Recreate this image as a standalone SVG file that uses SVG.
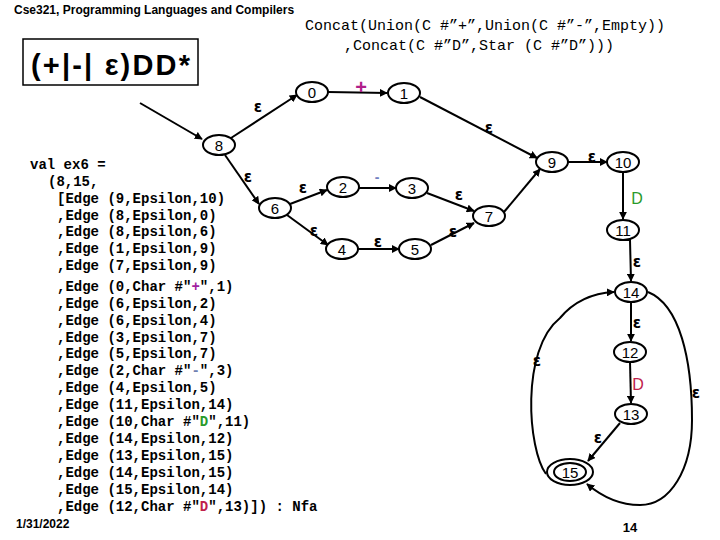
<svg xmlns="http://www.w3.org/2000/svg" width="720" height="540" viewBox="0 0 720 540">
<style>
.n ellipse{fill:#fff;stroke:#000;stroke-width:2}
.n text{font-family:"Liberation Sans",Arial,sans-serif;font-size:15px;text-anchor:middle;dominant-baseline:central}
.e path{fill:none;stroke:#000;stroke-width:2}
.l{font-family:"DejaVu Sans",sans-serif;font-size:15px;font-weight:bold;text-anchor:middle}
.c{font-family:"Liberation Mono","Courier New",monospace;font-size:14px;font-weight:bold;fill:#000}
</style>
<defs><marker id="a" viewBox="0 0 10 10" refX="9" refY="5" markerWidth="4" markerHeight="4" orient="auto"><path d="M0,0L10,5L0,10z" fill="#000"/></marker></defs>
<rect width="720" height="540" fill="#fff"/>
<text x="14" y="14" font-family="Liberation Sans,Arial,sans-serif" font-size="12" font-weight="bold">Cse321, Programming Languages and Compilers</text>
<text x="305" y="30" font-family="Liberation Mono,monospace" font-size="15">Concat(Union(C #”+”,Union(C #”-”,Empty))</text>
<text x="344" y="50" font-family="Liberation Mono,monospace" font-size="15">,Concat(C #”D”,Star (C #”D”)))</text>
<rect x="23" y="39" width="175" height="46" fill="none" stroke="#000" stroke-width="1.5"/>
<text x="31" y="75" font-family="Liberation Sans,Arial,sans-serif" font-size="29" font-weight="bold" textLength="159">(+|-| ε)DD*</text>
<g id="code">
<text class="c" x="30" y="169">val ex6 =</text>
<text class="c" x="48" y="186">(8,15,</text>
<text class="c" x="57" y="203">[Edge (9,Epsilon,10)</text>
<text class="c" x="57" y="220">,Edge (8,Epsilon,0)</text>
<text class="c" x="57" y="236">,Edge (8,Epsilon,6)</text>
<text class="c" x="57" y="253">,Edge (1,Epsilon,9)</text>
<text class="c" x="57" y="270">,Edge (7,Epsilon,9)</text>
<text class="c" x="57" y="291">,Edge (0,Char #"<tspan fill="#a020a0">+</tspan>",1)</text>
<text class="c" x="57" y="308">,Edge (6,Epsilon,2)</text>
<text class="c" x="57" y="325">,Edge (6,Epsilon,4)</text>
<text class="c" x="57" y="342">,Edge (3,Epsilon,7)</text>
<text class="c" x="57" y="358">,Edge (5,Epsilon,7)</text>
<text class="c" x="57" y="375">,Edge (2,Char #"<tspan fill="#7080b0">-</tspan>",3)</text>
<text class="c" x="57" y="392">,Edge (4,Epsilon,5)</text>
<text class="c" x="57" y="409">,Edge (11,Epsilon,14)</text>
<text class="c" x="57" y="426">,Edge (10,Char #"<tspan fill="#2a9a2a">D</tspan>",11)</text>
<text class="c" x="57" y="443">,Edge (14,Epsilon,12)</text>
<text class="c" x="57" y="460">,Edge (13,Epsilon,15)</text>
<text class="c" x="57" y="477">,Edge (14,Epsilon,15)</text>
<text class="c" x="57" y="494">,Edge (15,Epsilon,14)</text>
<text class="c" x="57" y="511">,Edge (12,Char #"<tspan fill="#c0204a">D</tspan>",13)]) : Nfa</text>
</g>
<text x="16" y="528" font-family="Liberation Sans,Arial,sans-serif" font-size="12" font-weight="bold">1/31/2022</text>
<text x="630" y="532" font-family="Liberation Sans,Arial,sans-serif" font-size="13" font-weight="bold" text-anchor="middle">14</text>
<g id="connectors" class="e">
<path d="M140,103L202,139" marker-end="url(#a)"/>
<path d="M231,138L297,95" marker-end="url(#a)"/>
<path d="M328,92L387,93" marker-end="url(#a)"/>
<path d="M420,97L537,158" marker-end="url(#a)"/>
<path d="M225,155L259,204" marker-end="url(#a)"/>
<path d="M290,204L327,190" marker-end="url(#a)"/>
<path d="M359,188L396,188" marker-end="url(#a)"/>
<path d="M427,193L474,211" marker-end="url(#a)"/>
<path d="M287,215L328,245" marker-end="url(#a)"/>
<path d="M358,249L399,249" marker-end="url(#a)"/>
<path d="M431,245L474,223" marker-end="url(#a)"/>
<path d="M504,212L540,169" marker-end="url(#a)"/>
<path d="M568,162L607,162" marker-end="url(#a)"/>
<path d="M623,172L623,219" marker-end="url(#a)"/>
<path d="M623,240L630,240L631,281" marker-end="url(#a)"/>
<path d="M631,302L631,341" marker-end="url(#a)"/>
<path d="M630,362L631,403" marker-end="url(#a)"/>
<path d="M620,423L588,461" marker-end="url(#a)"/>
<path d="M546,474C528,450 520,350 560,318C575,300 595,293 614,292" marker-end="url(#a)"/>
<path d="M648,292C680,305 692,360 692,420C692,470 670,505 640,505C618,505 600,495 587,484" marker-end="url(#a)"/>
</g>
<g id="labels">
<text class="l" x="258" y="112">ε</text>
<text x="361" y="94" font-family="Liberation Sans,sans-serif" font-size="20" font-weight="bold" fill="#b0208a" text-anchor="middle">+</text>
<text class="l" x="489" y="133">ε</text>
<text class="l" x="248" y="182">ε</text>
<text class="l" x="303" y="193">ε</text>
<text x="377" y="182" font-family="Liberation Sans,sans-serif" font-size="14" font-weight="bold" fill="#7080c0" text-anchor="middle">-</text>
<text class="l" x="459" y="200">ε</text>
<text class="l" x="314" y="236">ε</text>
<text class="l" x="378" y="247">ε</text>
<text class="l" x="453" y="237">ε</text>
<text class="l" x="592" y="162">ε</text>
<text x="637" y="204" font-family="Liberation Sans,sans-serif" font-size="16" fill="#2a9a2a" text-anchor="middle">D</text>
<text class="l" x="637" y="267">ε</text>
<text class="l" x="637" y="328">ε</text>
<text x="638" y="390" font-family="Liberation Sans,sans-serif" font-size="16" fill="#c0204a" text-anchor="middle">D</text>
<text class="l" x="598" y="443">ε</text>
<text class="l" x="537" y="366">ε</text>
<text class="l" x="696" y="398">ε</text>
</g>
<g id="n0" class="n"><ellipse cx="312" cy="92" rx="16" ry="10"/><text x="312" y="92">0</text></g>
<g id="n1" class="n"><ellipse cx="404" cy="93" rx="16" ry="10"/><text x="404" y="93">1</text></g>
<g id="n8" class="n"><ellipse cx="219" cy="145" rx="16" ry="10"/><text x="219" y="145">8</text></g>
<g id="n6" class="n"><ellipse cx="275" cy="208" rx="16" ry="10"/><text x="275" y="208">6</text></g>
<g id="n2" class="n"><ellipse cx="343" cy="187" rx="16" ry="10"/><text x="343" y="187">2</text></g>
<g id="n3" class="n"><ellipse cx="412" cy="188" rx="16" ry="10"/><text x="412" y="188">3</text></g>
<g id="n4" class="n"><ellipse cx="342" cy="249" rx="16" ry="10"/><text x="342" y="249">4</text></g>
<g id="n5" class="n"><ellipse cx="415" cy="249" rx="16" ry="10"/><text x="415" y="249">5</text></g>
<g id="n7" class="n"><ellipse cx="489" cy="216" rx="16" ry="10"/><text x="489" y="216">7</text></g>
<g id="n9" class="n"><ellipse cx="552" cy="162" rx="16" ry="10"/><text x="552" y="162">9</text></g>
<g id="n10" class="n"><ellipse cx="623" cy="162" rx="16" ry="10"/><text x="623" y="162">10</text></g>
<g id="n11" class="n"><ellipse cx="623" cy="230" rx="16" ry="10"/><text x="623" y="230">11</text></g>
<g id="n14" class="n"><ellipse cx="631" cy="292" rx="16" ry="10"/><text x="631" y="292">14</text></g>
<g id="n12" class="n"><ellipse cx="630" cy="352" rx="16" ry="10"/><text x="630" y="352">12</text></g>
<g id="n13" class="n"><ellipse cx="631" cy="414" rx="16" ry="10"/><text x="631" y="414">13</text></g>
<g id="n15" class="n"><ellipse cx="570" cy="472" rx="23" ry="13"/><ellipse cx="570" cy="472" rx="16" ry="9"/><text x="570" y="472">15</text></g>
</svg>
